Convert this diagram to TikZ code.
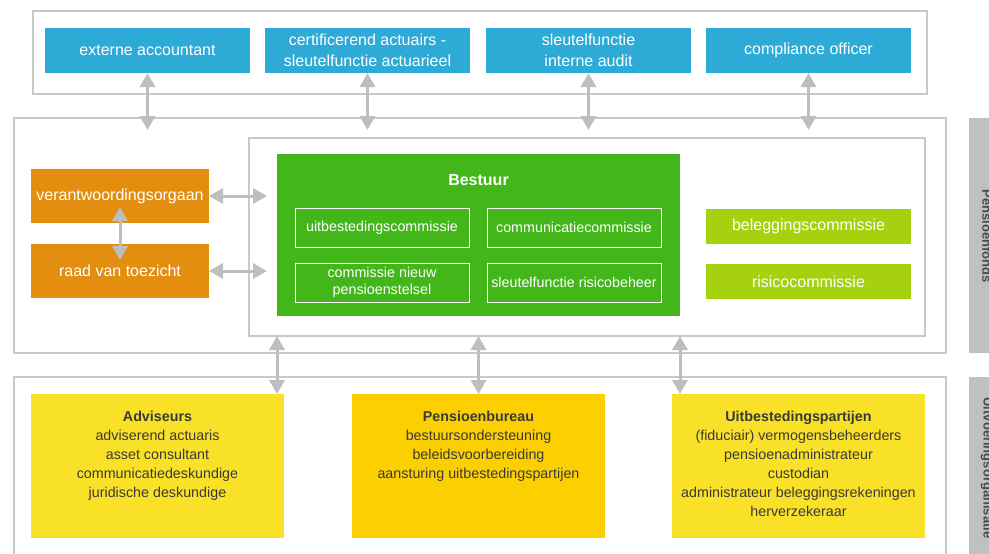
\documentclass[tikz,border=0pt]{standalone}
\usepackage{fontspec}
\setmainfont{Liberation Sans}
\usetikzlibrary{arrows.meta}
\definecolor{framegray}{HTML}{C9C9C9}
\definecolor{arrowgray}{HTML}{BDBEC0}
\definecolor{sidegray}{HTML}{C0C0C0}
\definecolor{sidetext}{HTML}{4A4A4A}
\definecolor{cblue}{HTML}{2EAAD7}
\definecolor{corange}{HTML}{E38E0E}
\definecolor{cgreen}{HTML}{43B61A}
\definecolor{clime}{HTML}{A5D10F}
\definecolor{cyellow}{HTML}{F9E128}
\definecolor{cgold}{HTML}{FCD000}
\definecolor{darktext}{HTML}{3A3A3A}
\begin{document}
\begin{tikzpicture}[x=1pt,y=-1pt,
  base/.style={rectangle, inner sep=0pt, outer sep=0pt, anchor=north west, align=center},
  frame/.style={base, draw=framegray, line width=1.5pt, fill=white},
  bigtxt/.style={font=\fontsize{16}{21}\selectfont, text=white},
  bluebox/.style={base, fill=cblue, bigtxt, minimum width=205pt, minimum height=45pt},
  orangebox/.style={base, fill=corange, bigtxt, minimum width=178pt, minimum height=54pt},
  limebox/.style={base, fill=clime, bigtxt, minimum width=205pt, minimum height=35pt},
  subbox/.style={base, draw=white, line width=1pt, text=white, font=\fontsize{14.3}{17}\selectfont, minimum width=174pt, minimum height=39pt},
  yelbox/.style={base, minimum width=253pt, minimum height=144pt},
  yeltxt/.style={rectangle, inner sep=0pt, anchor=north, align=center, text=darktext, font=\fontsize{14.3}{19}\selectfont},
  sidebar/.style={base, fill=sidegray, minimum width=30pt},
  sidelabel/.style={rectangle, inner sep=0pt, rotate=-90, text=sidetext, font=\fontsize{13}{15}\selectfont\bfseries},
  twoway/.style={draw=arrowgray, line width=3pt, {Triangle[width=15pt,length=14pt]}-{Triangle[width=15pt,length=14pt]}}
]
\useasboundingbox (0,0) rectangle (989,554);
\clip (0,0) rectangle (989,554);

% frames
\node[frame, minimum width=894pt, minimum height=83pt] (topframe) at (33,11) {};
\node[frame, minimum width=932pt, minimum height=235pt] (midframe) at (14,118) {};
\node[frame, minimum width=676pt, minimum height=198pt] (inframe) at (249,138) {};
\node[frame, minimum width=932pt, minimum height=200pt] (botframe) at (14,377) {};

% side bars
\node[sidebar, minimum height=235pt] (bar1) at (969,118) {};
\node[sidebar, minimum height=190pt] (bar2) at (969,377) {};
\node[sidelabel] (lab1) at (987,236) {Pensioenfonds};
\node[sidelabel] (lab2) at (987,468) {Uitvoeringsorganisatie};

% top boxes
\node[bluebox] (ext) at (45,28) {externe accountant};
\node[bluebox] (cert) at (265,28) {certificerend actuairs -\\sleutelfunctie actuarieel};
\node[bluebox] (audit) at (486,28) {sleutelfunctie\\interne audit};
\node[bluebox] (comp) at (706,28) {compliance officer};

% left boxes
\node[orangebox] (vo) at (31,169) {verantwoordingsorgaan};
\node[orangebox] (rvt) at (31,244) {raad van toezicht};

% green
\node[base, fill=cgreen, minimum width=403pt, minimum height=162pt] (bestuur) at (277,154) {};
\node[rectangle, inner sep=0pt, text=white, font=\fontsize{16}{18}\selectfont\bfseries] (bestuurtxt) at (478.5,180) {Bestuur};
\node[subbox] (uit) at (295,208) {uitbestedingscommissie};
\node[subbox] (comm) at (487,208) {communicatiecommissie};
\node[subbox] (nieuw) at (295,263) {commissie nieuw\\pensioenstelsel};
\node[subbox] (risbeh) at (487,263) {sleutelfunctie risicobeheer};

% lime
\node[limebox] (bel) at (706,209) {beleggingscommissie};
\node[limebox] (ris) at (706,264) {risicocommissie};

% bottom
\node[yelbox, fill=cyellow] (adv) at (31,394) {};
\node[yelbox, fill=cgold] (pb) at (352,394) {};
\node[yelbox, fill=cyellow] (up) at (672,394) {};
\node[yeltxt] (advtxt) at (adv.north |- 0,411) {\textbf{Adviseurs}\\adviserend actuaris\\asset consultant\\communicatiedeskundige\\juridische deskundige};
\node[yeltxt] (pbtxt) at (pb.north |- 0,411) {\textbf{Pensioenbureau}\\bestuursondersteuning\\beleidsvoorbereiding\\aansturing uitbestedingspartijen};
\node[yeltxt] (uptxt) at (up.north |- 0,411) {\textbf{Uitbestedingspartijen}\\(fiduciair) vermogensbeheerders\\pensioenadministrateur\\custodian\\administrateur beleggingsrekeningen\\herverzekeraar};

% arrows top
\coordinate (tend) at (0,130);
\foreach \n in {ext,cert,audit,comp}
  \draw[twoway] (\n.south) -- (\n.south |- tend);

% arrows left
\coordinate (lend) at (267,0);
\draw[twoway] (vo.east) -- (vo.east -| lend);
\draw[twoway] (rvt.east) -- (rvt.east -| lend);
\draw[twoway] ([yshift=16pt]vo.south) -- ([yshift=-16pt]rvt.north);

% arrows bottom
\draw[twoway] (bestuur.south west |- inframe.south) -- (bestuur.south west |- adv.north);
\draw[twoway] (bestuur.south |- inframe.south) -- (bestuur.south |- pb.north);
\draw[twoway] (bestuur.south east |- inframe.south) -- (bestuur.south east |- up.north);
\end{tikzpicture}
\end{document}
